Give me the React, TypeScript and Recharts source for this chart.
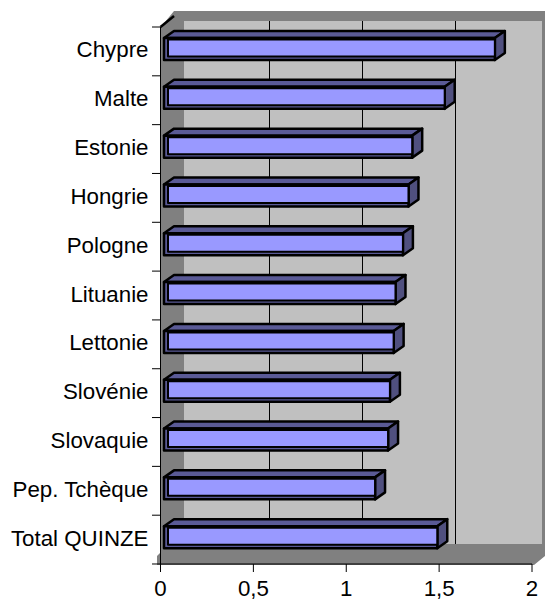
import { BarChart, Bar, XAxis, YAxis, ReferenceLine } from "recharts";

const categories = [
  "Chypre",
  "Malte",
  "Estonie",
  "Hongrie",
  "Pologne",
  "Lituanie",
  "Lettonie",
  "Slovénie",
  "Slovaquie",
  "Pep. Tchèque",
  "Total QUINZE",
];
const values = [1.8, 1.53, 1.355, 1.335, 1.305, 1.265, 1.255, 1.235, 1.225, 1.155, 1.49];
const xTicks = [0, 0.5, 1, 1.5, 2];
const gridValues = [0.5, 1, 1.5];

const data = categories.map((name, i) => ({ name, value: values[i] }));

const DEPTH_X = 10;
const DEPTH_Y = 7;
const BAND = 48.8;

// back wall, side wall and floor of the 3D box
function Walls() {
  return (
    <g>
      <polygon
        points="174,11 545,11 545,556 534,565 157,565 157,556 161,552 161,27"
        fill="#808080"
      />
      <rect x={184} y={21} width={358} height={523} fill="#c0c0c0" />
      <line x1={160.5} y1={27} x2={174} y2={16} stroke="#000" strokeWidth={2.5} />
    </g>
  );
}

function GridLine(props: any) {
  // the grid sits on the back wall, shifted away from the axis ticks
  const x = Math.round(props.x1 ?? props.x ?? 0) + 16.5;
  return <line x1={x} y1={21} x2={x} y2={544} stroke="#000" strokeWidth={1} />;
}

// label plus a tick mark on the band edge (excel puts them between categories)
function CategoryTick(props: any) {
  const { y, payload, index } = props;
  return (
    <g>
      <text x={148.5} y={y - 2} dy="0.36em" textAnchor="end" fontSize={22.3} fill="#000">
        {payload.value}
      </text>
      <line x1={152} y1={y - BAND / 2} x2={160} y2={y - BAND / 2} stroke="#000" />
      {index === categories.length - 1 && (
        <line x1={152} y1={y + BAND / 2} x2={160} y2={y + BAND / 2} stroke="#000" />
      )}
    </g>
  );
}

function Bar3D(props: any) {
  const { x, y, width, height } = props;
  const left = x + 3.5;
  const right = x + width;
  const top = y - 2;
  const bottom = top + height;
  return (
    <g stroke="#000" strokeLinejoin="round">
      <polygon
        points={`${left},${top} ${left + DEPTH_X},${top - DEPTH_Y} ${right + DEPTH_X},${top - DEPTH_Y} ${right},${top}`}
        fill="#5a5a96"
        strokeWidth={2.5}
      />
      <polygon
        points={`${right},${top} ${right + DEPTH_X},${top - DEPTH_Y} ${right + DEPTH_X},${bottom - DEPTH_Y} ${right},${bottom}`}
        fill="#50507f"
        strokeWidth={2.5}
      />
      <rect x={left} y={top} width={right - left} height={height} fill="#5a5a96" strokeWidth={2.5} />
      <rect
        x={left + 4}
        y={top + 1.5}
        width={right - left - 4}
        height={height - 5}
        fill="#9999ff"
        strokeWidth={2}
      />
    </g>
  );
}

export default function App() {
  return (
    <div style={{ position: "absolute", left: 0, top: 0 }}>
      <BarChart
        width={545}
        height={600}
        data={data}
        layout="vertical"
        margin={{ top: 27, right: 13, bottom: 0, left: 0 }}
        barCategoryGap={0}
        style={{ fontFamily: "'Liberation Sans', Arial, sans-serif" }}
      >
        <Walls />
        {gridValues.map((v) => (
          <ReferenceLine key={v} x={v} shape={GridLine} zIndex={100} />
        ))}
        <XAxis
          type="number"
          domain={[0, 2]}
          ticks={xTicks}
          tickFormatter={(v: number) => String(v).replace(".", ",")}
          interval={0}
          tick={{ fontSize: 22.3, fill: "#000" }}
          tickLine={{ stroke: "#000", strokeWidth: 1 }}
          axisLine={{ stroke: "#000", strokeWidth: 1 }}
          tickSize={8}
          tickMargin={8}
          height={36}
        />
        <YAxis
          type="category"
          dataKey="name"
          width={160.5}
          interval={0}
          tick={CategoryTick}
          tickLine={false}
          axisLine={{ stroke: "#000", strokeWidth: 1 }}
        />
        <Bar dataKey="value" barSize={22} shape={Bar3D} isAnimationActive={false} />
      </BarChart>
    </div>
  );
}
